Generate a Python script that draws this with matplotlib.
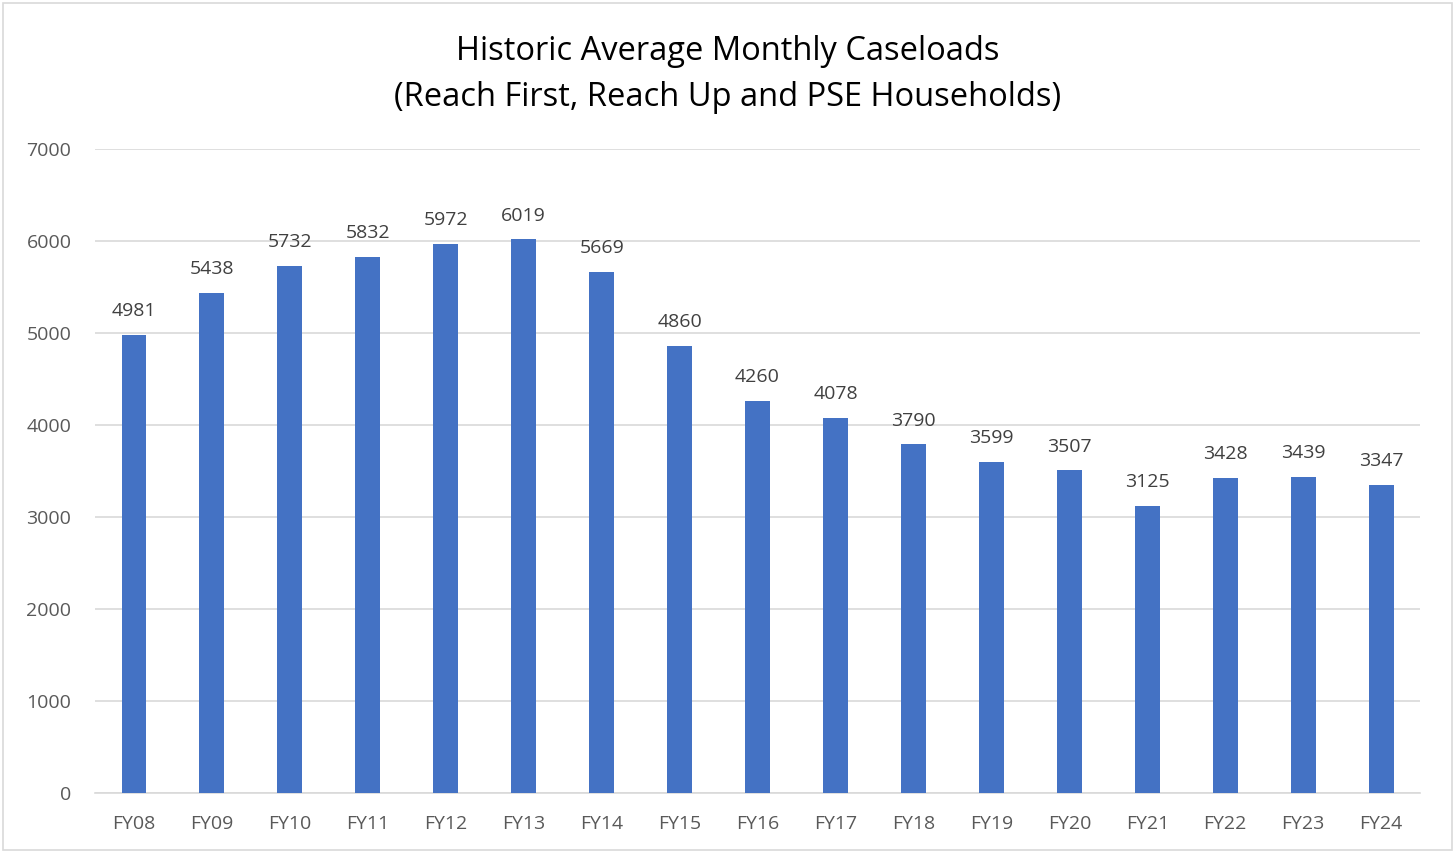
import matplotlib.pyplot as plt
from matplotlib.patches import Rectangle

years = ["FY08", "FY09", "FY10", "FY11", "FY12", "FY13", "FY14", "FY15", "FY16",
         "FY17", "FY18", "FY19", "FY20", "FY21", "FY22", "FY23", "FY24"]
caseloads = [4981, 5438, 5732, 5832, 5972, 6019, 5669, 4860, 4260,
             4078, 3790, 3599, 3507, 3125, 3428, 3439, 3347]

plt.rcParams['font.family'] = ['Open Sans', 'DejaVu Sans']

fig = plt.figure(figsize=(14.55, 8.52), dpi=100)
ax = fig.add_axes([0.0653, 0.0692, 0.9107, 0.7558])

x = range(len(years))
ax.bar(x, caseloads, width=0.32, color="#4472C4", zorder=3)
for i, v in zip(x, caseloads):
    ax.text(i, v + 160, str(v), ha="center", va="bottom", fontsize=14, color="#404040")

ax.set_xlim(-0.5, len(years) - 0.5)
ax.set_ylim(0, 7000)
ax.set_yticks(range(0, 7001, 1000))
ax.set_xticks(list(x))
ax.set_xticklabels(years)
ax.tick_params(axis="both", length=0, labelsize=14, labelcolor="#595959")
ax.tick_params(axis="x", pad=16)
ax.tick_params(axis="y", pad=17)
ax.grid(axis="y", color="#D9D9D9", linewidth=1.2, zorder=0)
for s in ["top", "right", "left"]:
    ax.spines[s].set_visible(False)
ax.spines["bottom"].set_color("#D9D9D9")
ax.spines["bottom"].set_linewidth(1.2)

fig.text(0.5, 0.9125, "Historic Average Monthly Caseloads\n(Reach First, Reach Up and PSE Households)",
         ha="center", va="center", fontsize=23.5, color="#000000", linespacing=1.5)

fig.patches.append(Rectangle((0.002, 0.002), 0.996, 0.994, transform=fig.transFigure,
                             fill=False, edgecolor="#D9D9D9", linewidth=1.2))

fig.savefig("out.png", dpi=100)
